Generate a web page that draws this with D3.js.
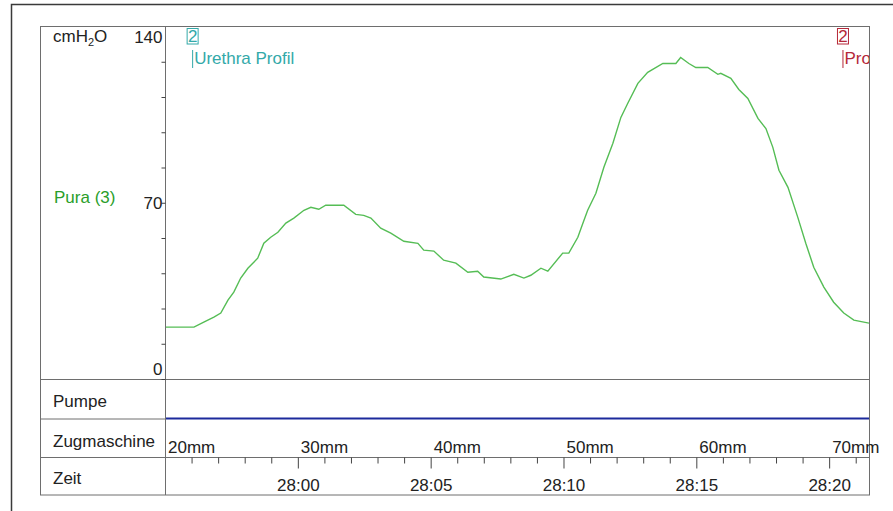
<!DOCTYPE html>
<html><head><meta charset="utf-8">
<script src="https://cdn.jsdelivr.net/npm/d3@7"></script>
<style>
body{margin:0;background:#fff}
svg{display:block}
text{font-family:"Liberation Sans",Arial,sans-serif}
</style>
</head><body>
<svg id="c" width="893" height="511"></svg>
<script>
// ---- data (time in seconds; 1680 s = 28:00) ----
const times = [1675.0,1676.09,1676.46,1676.84,1677.10,1677.37,1677.59,1677.85,1678.12,1678.49,1678.72,1678.98,1679.25,1679.55,1679.85,1680.23,1680.49,1680.79,1681.05,1681.73,1682.18,1682.48,1682.75,1683.12,1683.50,1683.99,1684.52,1684.74,1685.12,1685.49,1685.95,1686.40,1686.77,1687.00,1687.64,1688.13,1688.51,1688.77,1689.15,1689.41,1689.97,1690.20,1690.54,1690.73,1690.91,1691.22,1691.52,1691.86,1692.16,1692.42,1692.80,1693.17,1693.74,1694.23,1694.41,1694.72,1694.98,1695.43,1695.81,1695.92,1696.30,1696.60,1696.94,1697.32,1697.62,1697.88,1698.11,1698.45,1698.82,1699.12,1699.42,1699.80,1700.17,1700.55,1700.93,1701.50];
const pura = [20.6,20.6,22.6,24.6,26.2,31.3,34.5,40.1,44.0,48.0,53.9,56.3,58.3,61.9,63.9,67.0,68.2,67.4,69.0,69.0,65.4,65.0,63.9,59.9,57.9,54.7,53.9,51.2,50.8,47.2,46.0,42.4,42.8,40.5,39.7,41.6,40.1,41.2,44.0,42.8,50.0,50.0,56.3,61.9,67.0,73.8,84.1,93.6,103.9,109.5,117.4,121.8,125.3,125.3,127.7,125.3,123.7,123.7,121.0,121.4,119.4,115.0,111.4,103.5,99.5,92.0,82.9,76.1,64.2,53.9,44.4,36.5,30.5,26.2,23.4,22.2];
const pumpeTimes = [1675.0, 1701.5];
const pumpeValues = [0, 0];
const yTicks = [0,14,28,42,56,70,84,98,112,126,140];
const yTickLabels = [0,70,140];
const mmTicks = [20,30,40,50,60,70];
const timeMajor = [1680,1685,1690,1695,1700];
const markerTimes = [1676.04, 1700.52];
const markerNums = ["2","2"];
const markerLabels = ["Urethra Profil","Profil"];
const markerColors = ["#33a9a9","#b5283a"];
const rowLabels = ["Pumpe","Zugmaschine","Zeit"];

// ---- layout ----
const L = 40, S = 165, R = 869, T = 26.5, B = 379, P = 418.5, Z = 457, E = 495;
const FS = 17;
const svg = d3.select("#c");

// outer frame
svg.append("path").attr("d", `M11.5,511 V4.5 H893`).attr("fill","none").attr("stroke","#3a3a3a").attr("stroke-width",1.5);

const x = d3.scaleLinear().domain([1675, 1701.5]).range([S, R]);
const mm = d3.scaleLinear().domain([20, 73]).range([S, R]);
const y = d3.scaleLinear().domain([0, 140]).range([B, T]);
const yp = d3.scaleLinear().domain([0, 1]).range([P, 381]);

// clip
svg.append("clipPath").attr("id","plot").append("rect").attr("x",S).attr("y",T).attr("width",R-S).attr("height",B-T);

// Pura line
svg.append("path")
  .datum(times.map((t,i)=>[t,pura[i]]))
  .attr("clip-path","url(#plot)")
  .attr("fill","none").attr("stroke","#55bd55").attr("stroke-width",1.4)
  .attr("d", d3.line().x(d=>x(d[0])).y(d=>y(d[1])));

// Pumpe line
svg.append("path")
  .datum(pumpeTimes.map((t,i)=>[t,pumpeValues[i]]))
  .attr("fill","none").attr("stroke","#1c2a9c").attr("stroke-width",2.2)
  .attr("d", d3.line().x(d=>x(d[0])).y(d=>yp(d[1])));

// box lines
const g = svg.append("g").attr("stroke","#6e6e6e").attr("stroke-width",1).attr("fill","none");
g.append("rect").attr("x",L+0.5).attr("y",T).attr("width",R-L).attr("height",E-T);
g.append("line").attr("x1",S+0.5).attr("x2",S+0.5).attr("y1",T).attr("y2",E);
[B, Z].forEach(v=> g.append("line").attr("x1",L).attr("x2",R).attr("y1",v+0.5).attr("y2",v+0.5));
g.append("line").attr("x1",L).attr("x2",S).attr("y1",P+0.5).attr("y2",P+0.5);

// Y axis
const ya = svg.append("g").attr("transform",`translate(${S+0.5},0)`)
  .call(d3.axisLeft(y).tickValues(yTicks).tickSize(4).tickFormat(d=> yTickLabels.includes(d) ? d : ""));
ya.select(".domain").remove();
ya.selectAll("line").attr("stroke","#444");
ya.selectAll("text").attr("font-size",FS).attr("font-family","Liberation Sans, Arial, sans-serif").attr("fill","#222")
  .attr("x",-3)
  .attr("dy", d=> d===140 ? "0.95em" : d===0 ? "-0.25em" : "0.32em");
ya.selectAll(".tick").filter(d=>d===140).select("line").remove();

// units / series label
const cm = svg.append("text").attr("x",53).attr("y",42).attr("font-size",FS).attr("fill","#222");
cm.append("tspan").text("cmH");
cm.append("tspan").text("2").attr("font-size",11).attr("dy",4);
cm.append("tspan").text("O").attr("dy",-4);
svg.append("text").attr("x",54).attr("y",203).attr("font-size",FS).attr("fill","#2a9e2a").text("Pura (3)");

// row labels
const rowY = [407, 447, 484];
rowLabels.forEach((t,i)=> svg.append("text").attr("x",53).attr("y",rowY[i]).attr("font-size",FS).attr("fill","#222").text(t));

// mm axis labels
svg.append("g").selectAll("text").data(mmTicks).join("text")
  .attr("x", d=> mm(d)+3).attr("y",453).attr("font-size",FS).attr("fill","#222")
  .text(d=> d+"mm");

// time axis
const ta = svg.append("g").attr("transform",`translate(0,${Z+0.5})`)
  .call(d3.axisBottom(x).tickValues(d3.range(1676,1702)).tickSize(6)
    .tickFormat(d=> timeMajor.includes(d) ? Math.floor(d/60)+":"+String(d%60).padStart(2,"0") : ""));
ta.select(".domain").remove();
ta.selectAll("line").attr("stroke","#444").attr("y2", d=> timeMajor.includes(d) ? 11 : 6);
ta.selectAll("text").attr("font-size",FS).attr("font-family","Liberation Sans, Arial, sans-serif").attr("fill","#222")
  .attr("y",21).attr("dy","0.71em");

// markers
svg.append("clipPath").attr("id","mk").append("rect").attr("x",S).attr("y",T).attr("width",R-S).attr("height",60);
const mk = svg.append("g").attr("clip-path","url(#mk)");
markerTimes.forEach((t,i)=>{
  const mx = x(t), c = markerColors[i];
  mk.append("rect").attr("x",mx-5.5).attr("y",28.5).attr("width",11).attr("height",15.5).attr("fill","none").attr("stroke",c).attr("stroke-width",1);
  mk.append("text").attr("x",mx).attr("y",42).attr("text-anchor","middle").attr("font-size",FS).attr("fill",c).text(markerNums[i]);
  mk.append("line").attr("x1",mx).attr("x2",mx).attr("y1",50).attr("y2",68).attr("stroke",c).attr("stroke-width",1);
  mk.append("text").attr("x",mx+1.5).attr("y",64).attr("font-size",FS).attr("fill",c).text(markerLabels[i]);
});
</script>
</body></html>
